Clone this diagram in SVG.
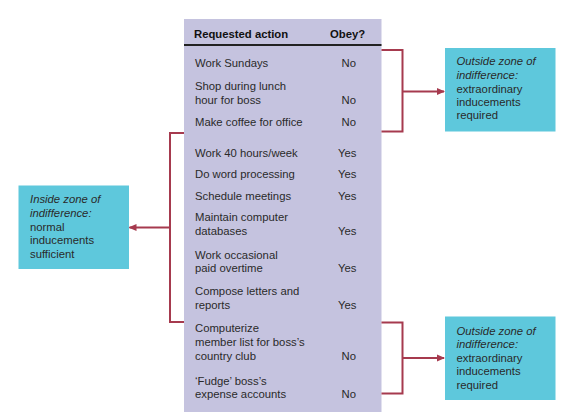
<svg xmlns="http://www.w3.org/2000/svg" width="577" height="417" viewBox="0 0 577 417">
<defs>
<style>
text{font-family:"Liberation Sans",Arial,sans-serif;font-size:11.3px;fill:#2a2a2a}
.b{font-weight:bold;fill:#111}
.i{font-style:italic}
.zone{fill:#5ec8dc}
.con{fill:none;stroke:#a63a4e;stroke-width:2}
</style>
<marker id="ah" markerWidth="8" markerHeight="8" refX="7" refY="4" orient="auto" markerUnits="userSpaceOnUse">
<path d="M0,0.5 L8,4 L0,7.5 Z" fill="#a63a4e"/>
</marker>
</defs>
<rect width="577" height="417" fill="#ffffff"/>
<g id="table">
<rect x="184" y="19" width="197.5" height="393" fill="#c5c3df"/>
<line x1="184" y1="45" x2="381.5" y2="45" stroke="#222" stroke-width="1.8"/>
<text class="b" x="194" y="38">Requested action</text>
<text class="b" x="330" y="38">Obey?</text>
<text x="195" y="66.5">Work Sundays</text><text x="341.5" y="66.5">No</text>
<text x="195" y="89.5">Shop during lunch</text>
<text x="195" y="103.5">hour for boss</text><text x="341.5" y="103.5">No</text>
<text x="195" y="126">Make coffee for office</text><text x="341.5" y="126">No</text>
<text x="195" y="156.5">Work 40 hours/week</text><text x="338" y="156.5">Yes</text>
<text x="195" y="177.5">Do word processing</text><text x="338" y="177.5">Yes</text>
<text x="195" y="199.5">Schedule meetings</text><text x="338" y="199.5">Yes</text>
<text x="195" y="221">Maintain computer</text>
<text x="195" y="235">databases</text><text x="338" y="235">Yes</text>
<text x="195" y="258.5">Work occasional</text>
<text x="195" y="272">paid overtime</text><text x="338" y="272">Yes</text>
<text x="195" y="295">Compose letters and</text>
<text x="195" y="308.5">reports</text><text x="338" y="308.5">Yes</text>
<text x="195" y="332">Computerize</text>
<text x="195" y="345.5">member list for boss’s</text>
<text x="195" y="359.5">country club</text><text x="341.5" y="359.5">No</text>
<text x="195" y="384.5">‘Fudge’ boss’s</text>
<text x="195" y="398">expense accounts</text><text x="341.5" y="398">No</text>
</g>
<g id="outside-top">
<rect class="zone" x="445" y="48" width="110.5" height="83.5"/>
<text class="i" x="456.5" y="65">Outside zone of</text>
<text class="i" x="456.5" y="78.5">indifference:</text>
<text x="456.5" y="92.5">extraordinary</text>
<text x="456.5" y="105.5">inducements</text>
<text x="456.5" y="119">required</text>
</g>
<g id="inside">
<rect class="zone" x="18.5" y="185.5" width="110.5" height="83.5"/>
<text class="i" x="30" y="203">Inside zone of</text>
<text class="i" x="30" y="216.5">indifference:</text>
<text x="30" y="230.5">normal</text>
<text x="30" y="244">inducements</text>
<text x="30" y="257.5">sufficient</text>
</g>
<g id="outside-bottom">
<rect class="zone" x="445" y="316.5" width="110.5" height="83.5"/>
<text class="i" x="456.5" y="334.5">Outside zone of</text>
<text class="i" x="456.5" y="348">indifference:</text>
<text x="456.5" y="362">extraordinary</text>
<text x="456.5" y="375">inducements</text>
<text x="456.5" y="388.5">required</text>
</g>
<g id="connectors">
<polyline class="con" points="381.5,50 402.5,50 402.5,131.5 381.5,131.5"/>
<line class="con" x1="402.5" y1="91.5" x2="444" y2="91.5" marker-end="url(#ah)"/>
<polyline class="con" points="381.5,322.5 402.5,322.5 402.5,393.5 381.5,393.5"/>
<line class="con" x1="402.5" y1="358" x2="444" y2="358" marker-end="url(#ah)"/>
<polyline class="con" points="184,133 170,133 170,322 184,322"/>
<line class="con" x1="170" y1="227.5" x2="129.5" y2="227.5" marker-end="url(#ah)"/>
</g>
</svg>
